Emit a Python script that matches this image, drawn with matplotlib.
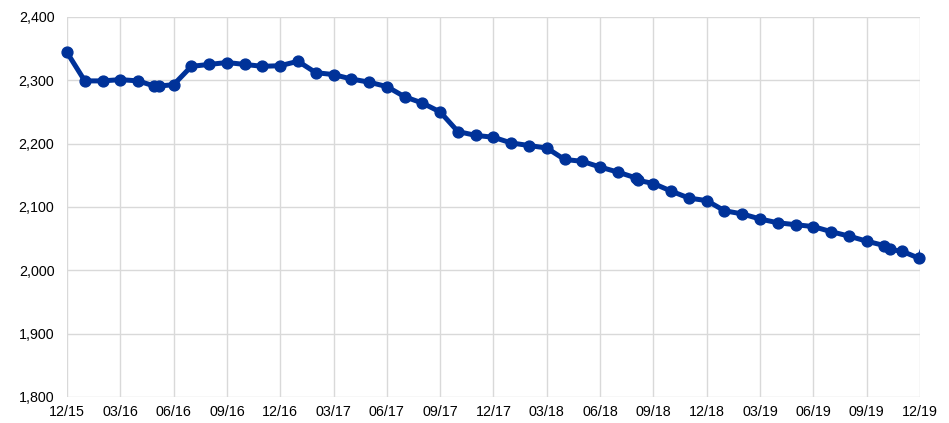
import matplotlib.pyplot as plt
from matplotlib.ticker import FuncFormatter

plt.rcParams['font.family'] = ['Liberation Sans', 'DejaVu Sans']

# months since Dec 2015
months = [0, 1, 2, 3, 4, 4.9, 5.2, 6, 7, 8, 9, 10, 11, 12, 13, 14, 15, 16, 17, 18,
          19, 20, 21, 22, 23, 24, 25, 26, 27, 28, 29, 30, 31, 32, 32.15, 33, 34, 35,
          36, 37, 38, 39, 40, 41, 42, 43, 44, 45, 46, 46.3, 47, 47.95]
values = [2344, 2299, 2299, 2301, 2299, 2291, 2291, 2293, 2322, 2325, 2328, 2325,
          2322, 2323, 2330, 2312, 2309, 2302, 2297, 2290, 2274, 2264, 2250, 2219,
          2213, 2210, 2201, 2197, 2193, 2175, 2172, 2163, 2155, 2146, 2142, 2137,
          2125, 2114, 2110, 2094, 2089, 2081, 2075, 2072, 2069, 2061, 2054, 2046,
          2039, 2033, 2030, 2019]
# line runs on past the right edge
tail_month = 48.3
tail_value = 2045

tick_months = list(range(0, 49, 3))
tick_labels = ['12/15', '03/16', '06/16', '09/16', '12/16', '03/17', '06/17', '09/17',
               '12/17', '03/18', '06/18', '09/18', '12/18', '03/19', '06/19', '09/19', '12/19']

fig = plt.figure(figsize=(9.49, 4.23), dpi=100)
ax = fig.add_axes([0.0706, 0.0615, 0.8988, 0.8985])

blue = '#003299'
ax.plot(months + [tail_month], values + [tail_value], color=blue, lw=3.6,
        solid_joinstyle='round', zorder=3)
ax.plot(months, values, 'o', color=blue, ms=7.8, zorder=4, clip_on=False)

ax.set_xlim(0, 48)
ax.set_ylim(1800, 2400)
ax.set_xticks(tick_months)
ax.set_xticklabels(tick_labels)
ax.set_yticks(range(1800, 2401, 100))
ax.yaxis.set_major_formatter(FuncFormatter(lambda v, p: f'{int(v):,}'))

ax.grid(True, color='#d9d9d9', lw=1)
ax.set_axisbelow(True)
for s in ax.spines.values():
    s.set_visible(False)
ax.tick_params(length=0, labelsize=10.3, colors='#000000', pad=6)
ax.tick_params(axis='y', pad=9)

fig.savefig('out.png', dpi=100)
